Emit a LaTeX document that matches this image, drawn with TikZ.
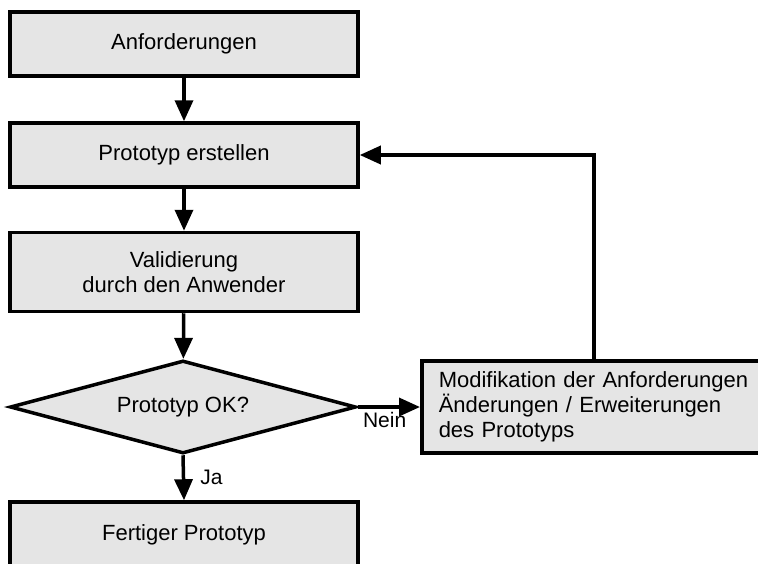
\documentclass[tikz,border=0pt]{standalone}
\usepackage{fontspec}
\setmainfont{Liberation Sans}
\usetikzlibrary{shapes.geometric,arrows.meta}
\definecolor{boxgray}{HTML}{E5E5E5}
\tikzset{
  stepbox/.style={draw=black, line width=3.5pt, fill=boxgray, rectangle,
    minimum width=348pt, inner sep=0pt, align=center,
    font=\fontsize{22}{25}\selectfont},
  decision/.style={draw=black, line width=3.5pt, fill=boxgray, diamond,
    aspect=3.7, minimum width=346pt, minimum height=93pt, inner sep=0pt,
    font=\fontsize{22}{25}\selectfont},
  flow/.style={line width=3.5pt, -{Triangle[length=21pt,width=18pt]}},
  lbl/.style={font=\fontsize{21}{24}\selectfont, inner sep=1pt}
}
\begin{document}
\begin{tikzpicture}[x=1pt,y=-1pt]
\useasboundingbox (0,0) rectangle (758,563);
\clip (0,0) rectangle (758,563);
\node[stepbox, minimum height=64pt] (anf) at (184,44) {Anforderungen};
\node[stepbox, minimum height=64pt] (proto) at (184,155) {Prototyp erstellen};
\node[stepbox, minimum height=79pt] (valid) at (184,272) {Validierung\\durch den Anwender};
\node[decision] (ok) at (183,407) {Prototyp OK?};
\node[stepbox, minimum height=66pt] (fertig) at (184,535) {Fertiger Prototyp};
\node[stepbox, anchor=west, minimum width=0pt, minimum height=92pt,
  text width=330pt, align=left, inner xsep=17pt] (mod) at (420,407)
  {Modifikation der Anforderungen\\\"Anderungen / Erweiterungen\\des Prototyps};
\coordinate (fb) at (594,155);
\draw[flow] (anf) -- (proto);
\draw[flow] (proto) -- (valid);
\draw[flow] (valid) -- (ok);
\draw[flow] (ok.south) -- (fertig.north)
  node[lbl, midway, anchor=west, xshift=14pt] {Ja};
\draw[flow] (ok.east) -- (mod.west)
  node[lbl, pos=1, anchor=north east, xshift=-11pt, yshift=-3pt] {Nein};
\draw[flow] (fb |- mod.north) -- (fb) -- (proto.east);
\end{tikzpicture}
\end{document}
